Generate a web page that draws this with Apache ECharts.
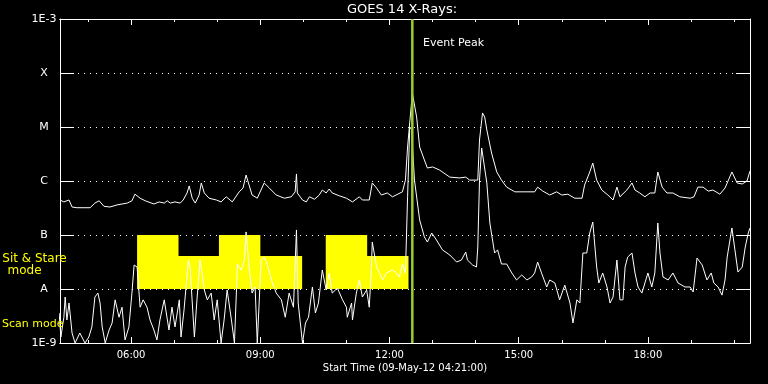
<!DOCTYPE html>
<html>
<head>
<meta charset="utf-8">
<script src="https://cdn.jsdelivr.net/npm/echarts@6/dist/echarts.min.js"></script>
<style>html,body{margin:0;padding:0;background:#000;}#c{width:768px;height:384px;}</style>
</head>
<body>
<div id="c"></div>
<script>
// ---- data (time in decimal hours of 09-May-12, flux in W/m^2) ----
var timeMin = 4.35, timeMax = 20.37;
var majorHours = [6, 9, 12, 15, 18];
var minorHours = [5, 7, 8, 10, 11, 13, 14, 16, 17, 19, 20];
var yTickLabels = {'-9': '1E-9', '-8': 'A', '-7': 'B', '-6': 'C', '-5': 'M', '-4': 'X', '-3': '1E-3'};
var eventPeakTime = 12.53;
var blockBase = 1e-8;
// [start hour, end hour, top flux]
var sitStareBlocks = [[6.14,7.09,1e-7],[7.09,8.04,4.1e-8],[8.04,8.99,1e-7],[8.99,9.96,4.1e-8],[10.52,11.47,1e-7],[11.47,12.43,4.1e-8]];

var longChannel = [[4.35,4.45e-7],[4.44,4.1e-7],[4.56,4.45e-7],[4.63,3.3e-7],[4.74,3.2e-7],[4.91,3.2e-7],[5.05,3.2e-7],[5.16,3.9e-7],[5.26,4.3e-7],[5.37,3.4e-7],[5.51,3.3e-7],[5.67,3.6e-7],[5.91,3.9e-7],[6.02,4.3e-7],[6.09,5.7e-7],[6.21,4.8e-7],[6.33,4.3e-7],[6.53,3.75e-7],[6.65,4.1e-7],[6.77,3.9e-7],[6.84,4.3e-7],[6.91,3.9e-7],[7.02,4.1e-7],[7.14,3.9e-7],[7.21,4.45e-7],[7.30,6.0e-7],[7.35,8.1e-7],[7.42,4.8e-7],[7.49,3.9e-7],[7.58,5.5e-7],[7.63,9.2e-7],[7.65,9.6e-7],[7.70,6.0e-7],[7.81,4.8e-7],[7.98,4.45e-7],[8.09,4.1e-7],[8.21,5.1e-7],[8.35,4.1e-7],[8.51,6.3e-7],[8.60,7.4e-7],[8.67,1.29e-6],[8.74,8.4e-7],[8.81,5.5e-7],[8.93,4.8e-7],[9.09,9.2e-7],[9.21,7.4e-7],[9.37,5.5e-7],[9.56,4.8e-7],[9.72,5.1e-7],[9.81,6.3e-7],[9.84,1.35e-6],[9.86,6.0e-7],[9.98,4.45e-7],[10.07,4.1e-7],[10.14,5.1e-7],[10.26,4.6e-7],[10.37,5.5e-7],[10.44,6.8e-7],[10.53,6.0e-7],[10.60,7.1e-7],[10.67,6.0e-7],[10.84,5.3e-7],[11.00,4.8e-7],[11.14,4.1e-7],[11.30,5.1e-7],[11.37,4.45e-7],[11.53,4.45e-7],[11.60,9.2e-7],[11.70,7.4e-7],[11.81,5.5e-7],[11.95,6.0e-7],[12.07,5.1e-7],[12.30,6.3e-7],[12.37,1.04e-6],[12.42,4.26e-6],[12.49,1.82e-5],[12.53,4.26e-5],[12.56,4.26e-5],[12.63,1.53e-5],[12.70,4.26e-6],[12.81,2.45e-6],[12.88,1.74e-6],[13.00,1.82e-6],[13.16,1.6e-6],[13.40,1.18e-6],[13.63,1.14e-6],[13.77,1.18e-6],[13.86,1.04e-6],[14.05,1.04e-6],[14.09,5.74e-6],[14.16,1.82e-5],[14.21,1.53e-5],[14.26,8.8e-6],[14.37,3.3e-6],[14.49,1.47e-6],[14.60,1.04e-6],[14.72,7.7e-7],[14.91,6.3e-7],[15.19,6.3e-7],[15.37,6.3e-7],[15.44,7.7e-7],[15.56,6.5e-7],[15.72,5.5e-7],[15.88,6.3e-7],[16.00,5.5e-7],[16.14,5.7e-7],[16.30,4.8e-7],[16.47,4.8e-7],[16.53,8.4e-7],[16.65,1.47e-6],[16.72,2.15e-6],[16.81,1.04e-6],[16.93,6.8e-7],[17.07,5.5e-7],[17.19,4.45e-7],[17.28,7.7e-7],[17.35,5.1e-7],[17.51,6.8e-7],[17.63,9.2e-7],[17.70,6.8e-7],[17.81,6.0e-7],[17.93,5.1e-7],[18.05,6.0e-7],[18.16,6.0e-7],[18.23,1.47e-6],[18.33,7.7e-7],[18.44,6.0e-7],[18.58,6.0e-7],[18.74,5.1e-7],[18.98,4.8e-7],[19.07,5.1e-7],[19.16,7.7e-7],[19.28,7.7e-7],[19.40,6.5e-7],[19.51,6.8e-7],[19.67,5.7e-7],[19.79,7.4e-7],[19.95,1.47e-6],[20.07,9.2e-7],[20.19,8.8e-7],[20.30,1.0e-6],[20.37,1.53e-6]];

var shortChannel = [[4.33,3.6e-9],[4.37,1.29e-9],[4.44,3.0e-9],[4.47,7.1e-9],[4.51,2.67e-9],[4.56,5.5e-9],[4.63,1.53e-9],[4.70,1.0e-9],[4.81,1.53e-9],[4.93,1.0e-9],[5.02,1.29e-9],[5.09,1.98e-9],[5.16,7.1e-9],[5.23,8.4e-9],[5.28,5.5e-9],[5.33,1.98e-9],[5.40,1.0e-9],[5.49,1.74e-9],[5.56,2.35e-9],[5.63,6.3e-9],[5.72,3.0e-9],[5.79,4.6e-9],[5.86,1.14e-9],[5.95,1.98e-9],[6.02,8.4e-9],[6.07,2.78e-8],[6.14,2.55e-8],[6.21,4.6e-9],[6.28,6.3e-9],[6.37,4.6e-9],[6.44,2.67e-9],[6.53,1.74e-9],[6.60,1.14e-9],[6.67,2.67e-9],[6.77,6.3e-9],[6.88,1.74e-9],[6.95,4.6e-9],[7.02,1.98e-9],[7.12,6.3e-9],[7.16,1.29e-9],[7.23,4.1e-9],[7.33,3.44e-8],[7.37,2.55e-8],[7.47,1.29e-9],[7.53,6.3e-9],[7.60,3.44e-8],[7.63,2.55e-8],[7.70,9.6e-9],[7.77,6.3e-9],[7.86,8.4e-9],[7.93,2.67e-9],[8.00,6.3e-9],[8.09,1.0e-9],[8.16,2.67e-9],[8.23,9.6e-9],[8.33,2.67e-9],[8.40,1.0e-9],[8.47,2.9e-8],[8.56,2.25e-8],[8.63,3.44e-8],[8.67,1.14e-7],[8.74,2.55e-8],[8.81,8.4e-9],[8.88,1.09e-8],[8.93,1.0e-9],[9.02,3.44e-8],[9.09,3.9e-8],[9.16,2.9e-8],[9.26,1.47e-8],[9.37,8.4e-9],[9.49,6.3e-9],[9.58,3.0e-9],[9.67,8.4e-9],[9.77,4.6e-9],[9.84,1.24e-7],[9.88,5.5e-9],[9.98,1.0e-9],[10.05,2.35e-9],[10.12,3.0e-9],[10.21,1.09e-8],[10.28,3.6e-9],[10.35,5.5e-9],[10.44,2.25e-8],[10.53,9.6e-9],[10.60,1.98e-8],[10.67,8.4e-9],[10.79,1.04e-8],[10.91,6.3e-9],[11.00,4.6e-9],[11.02,3.0e-9],[11.12,5.5e-9],[11.14,2.67e-9],[11.23,8.4e-9],[11.30,1.47e-8],[11.37,7.1e-9],[11.47,9.6e-9],[11.53,4.6e-9],[11.58,2.55e-8],[11.60,7.4e-8],[11.70,2.55e-8],[11.77,1.98e-8],[11.84,1.47e-8],[11.93,1.98e-8],[12.07,2.25e-8],[12.16,1.98e-8],[12.23,1.67e-8],[12.30,2.9e-8],[12.37,1.98e-8],[12.42,5.1e-7],[12.47,1.0e-5],[12.51,9.0e-6],[12.58,1.04e-6],[12.70,1.9e-7],[12.81,9.2e-8],[12.88,7.4e-8],[12.98,1.09e-7],[13.09,8.1e-8],[13.23,5.3e-8],[13.40,4.26e-8],[13.56,3.16e-8],[13.67,3.44e-8],[13.77,4.84e-8],[13.81,3.44e-8],[13.93,2.78e-8],[14.02,2.55e-8],[14.05,6.0e-8],[14.09,1.04e-6],[14.14,4.08e-6],[14.16,4.08e-6],[14.26,9.2e-7],[14.33,1.67e-7],[14.44,4.64e-8],[14.51,5.3e-8],[14.60,2.9e-8],[14.72,2.9e-8],[14.84,1.98e-8],[14.95,1.47e-8],[15.07,1.82e-8],[15.19,1.47e-8],[15.30,1.67e-8],[15.37,1.98e-8],[15.44,3.16e-8],[15.53,1.98e-8],[15.65,1.09e-8],[15.72,1.47e-8],[15.84,1.29e-8],[15.95,6.3e-9],[16.07,1.18e-8],[16.19,5.5e-9],[16.26,2.35e-9],[16.35,6.3e-9],[16.42,5.5e-9],[16.49,4.64e-8],[16.58,4.64e-8],[16.65,1.09e-7],[16.72,1.74e-7],[16.81,2.55e-8],[16.86,1.29e-8],[16.95,1.98e-8],[17.05,1.09e-8],[17.12,5.5e-9],[17.19,7.1e-9],[17.28,3.44e-8],[17.35,6.3e-9],[17.42,6.3e-9],[17.47,2.55e-8],[17.53,3.9e-8],[17.63,4.64e-8],[17.70,1.98e-8],[17.77,1.09e-8],[17.86,8.4e-9],[17.93,1.29e-8],[18.00,1.98e-8],[18.09,1.09e-8],[18.16,1.98e-8],[18.23,1.67e-7],[18.28,4.64e-8],[18.35,1.67e-8],[18.47,1.47e-8],[18.58,1.98e-8],[18.70,1.29e-8],[18.86,1.09e-8],[18.98,1.09e-8],[19.05,8.8e-9],[19.14,3.75e-8],[19.26,2.78e-8],[19.37,1.47e-8],[19.47,1.98e-8],[19.53,1.29e-8],[19.63,1.09e-8],[19.72,7.7e-9],[19.79,1.47e-8],[19.84,3.9e-8],[19.95,1.35e-7],[20.02,5.3e-8],[20.09,2.06e-8],[20.19,2.55e-8],[20.26,6.0e-8],[20.33,1.09e-7],[20.37,1.35e-7]];

// ---- chart ----
var FONT = '"DejaVu Sans", sans-serif';
var WHITE = '#ffffff';
var chart = echarts.init(document.getElementById('c'), null, {renderer: 'canvas'});

function hourLabel(v) { return (v < 10 ? '0' : '') + v + ':00'; }
function xAxisDef(position, ticks, len, showLabel) {
  return {
    type: 'value', min: timeMin, max: timeMax, position: position,
    axisLine: {show: true, onZero: false, lineStyle: {color: WHITE, width: 1}},
    axisTick: {show: true, inside: true, length: len, customValues: ticks, lineStyle: {color: WHITE, width: 1}},
    axisLabel: showLabel ? {show: true, customValues: majorHours, formatter: hourLabel, color: WHITE, fontSize: 10, fontFamily: FONT, margin: 7} : {show: false},
    splitLine: {show: false}
  };
}
function yAxisDef(position, showLabel) {
  return {
    type: 'log', logBase: 10, min: 1e-9, max: 1e-3, splitNumber: 6, position: position,
    axisLine: {show: true, onZero: false, lineStyle: {color: WHITE, width: 1}},
    axisTick: {show: true, inside: true, length: 14, lineStyle: {color: WHITE, width: 1}},
    axisLabel: showLabel ? {
      show: true, color: WHITE, fontSize: 11, fontFamily: FONT, margin: 16, align: 'center',
      formatter: function (v) { return yTickLabels[String(Math.round(Math.log10(v)))] || ''; }
    } : {show: false},
    splitLine: showLabel ? {show: true, lineStyle: {color: WHITE, width: 1, type: [1, 5]}} : {show: false}
  };
}

var option = {
  backgroundColor: '#000000',
  animation: false,
  grid: {left: 60, right: 18, top: 19, bottom: 41, containLabel: false},
  xAxis: [
    xAxisDef('bottom', majorHours, 6, true),
    xAxisDef('bottom', minorHours, 3, false),
    xAxisDef('top', majorHours, 6, false),
    xAxisDef('top', minorHours, 3, false)
  ],
  yAxis: [yAxisDef('left', true), yAxisDef('right', false)],
  series: [
    {
      type: 'custom', xAxisIndex: 0, yAxisIndex: 0, z: 1, silent: true,
      data: sitStareBlocks,
      encode: {x: [0, 1], y: 2},
      renderItem: function (params, api) {
        var p0 = api.coord([api.value(0), api.value(2)]);
        var p1 = api.coord([api.value(1), blockBase]);
        return {type: 'rect', shape: {x: p0[0], y: p0[1], width: p1[0] - p0[0] + 0.5, height: p1[1] - p0[1]}, style: {fill: '#ffff00'}};
      }
    },
    {
      type: 'line', name: 'long', data: longChannel, z: 3, symbol: 'none', silent: true,
      lineStyle: {color: WHITE, width: 1}
    },
    {
      type: 'line', name: 'short', data: shortChannel, z: 3, symbol: 'none', silent: true,
      lineStyle: {color: WHITE, width: 1}
    },
    {
      type: 'line', name: 'peak', z: 5, symbol: 'none', silent: true,
      data: [[eventPeakTime, 1e-9], [eventPeakTime, 1e-3]],
      lineStyle: {color: '#9acd32', width: 2.5}
    }
  ],
  graphic: [
    {type: 'text', x: 402, y: 10, style: {text: 'GOES 14 X-Rays:', fill: WHITE, font: '13px ' + FONT, align: 'center', verticalAlign: 'middle'}},
    {type: 'text', x: 423, y: 43, z: 10, style: {text: 'Event Peak', fill: WHITE, font: '11px ' + FONT, align: 'left', verticalAlign: 'middle'}},
    {type: 'text', x: 34.5, y: 259, z: 10, style: {text: 'Sit & Stare', fill: '#ffff00', font: '12px ' + FONT, align: 'center', verticalAlign: 'middle'}},
    {type: 'text', x: 24.5, y: 271, z: 10, style: {text: 'mode', fill: '#ffff00', font: '12px ' + FONT, align: 'center', verticalAlign: 'middle'}},
    {type: 'text', x: 2, y: 324, z: 10, style: {text: 'Scan mode', fill: '#ffff00', font: '11px ' + FONT, align: 'left', verticalAlign: 'middle'}},
    {type: 'text', x: 405, y: 368, style: {text: 'Start Time (09-May-12 04:21:00)', fill: WHITE, font: '10px ' + FONT, align: 'center', verticalAlign: 'middle'}}
  ]
};
chart.setOption(option);
</script>
</body>
</html>
